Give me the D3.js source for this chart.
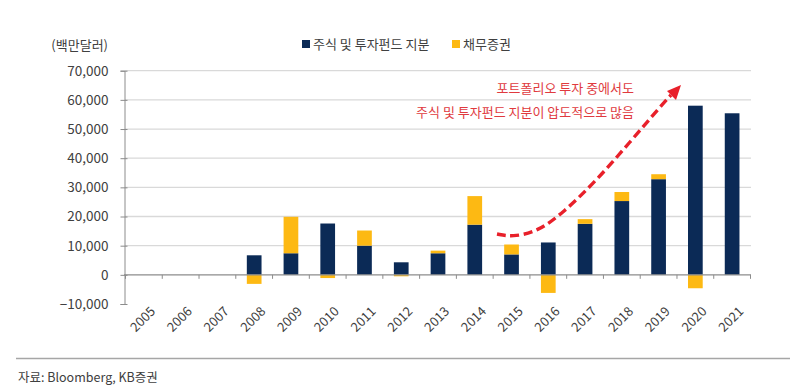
<!DOCTYPE html>
<html><head><meta charset="utf-8">
<script src="https://cdn.jsdelivr.net/npm/d3@7"></script>
<style>
body{margin:0;background:#fff;}
svg{display:block;font-family:"Noto Sans CJK KR","Noto Sans",sans-serif;}
</style></head>
<body><svg id="c" width="800" height="391"></svg>
<script>
const years = ["2005","2006","2007","2008","2009","2010","2011","2012","2013","2014","2015","2016","2017","2018","2019","2020","2021"];
const equity = [0,0,0,6700,7400,17600,10000,4300,7400,17200,7000,11100,17500,25300,32800,58000,55400];
const debt   = [0,0,0,-3100,12500,-1100,5200,-500,900,9800,3400,-6200,1600,3100,1700,-4600,0];
const yTicks = [-10000,0,10000,20000,30000,40000,50000,60000,70000];
const seriesNames = ["주식 및 투자펀드 지분","채무증권"];
const annotation = ["포트폴리오 투자 중에서도","주식 및 투자펀드 지분이 압도적으로 많음"];
const unitLabel = "(백만달러)";
const sourceLabel = "자료: Bloomberg, KB증권";
const colors = ["#0b2a56","#fdb913"];

const svg = d3.select("#c");
const x = d3.scaleBand().domain(years).range([125.5,750.5]).paddingInner(0.6).paddingOuter(0.3);
const y = d3.scaleLinear().domain([-10000,70000]).range([304,70.7]);

// grid
svg.append("g").selectAll("line").data(yTicks.filter(d=>d>0)).join("line")
  .attr("x1",125).attr("x2",751).attr("y1",d=>y(d)).attr("y2",d=>y(d))
  .attr("stroke","#d9d9d9").attr("stroke-width",1.3);

// y axis
const ya = svg.append("g").attr("transform","translate(124.5,0)")
  .call(d3.axisLeft(y).tickValues(yTicks).tickSize(4).tickFormat(d3.format(",")));
ya.select(".domain").attr("stroke","#8c8c8c");
ya.selectAll(".tick line").attr("stroke","#8c8c8c").attr("x2",-4).attr("x1",3);
ya.selectAll(".tick text").attr("x",-16).attr("fill","#404040").attr("font-size",13.5)
  .style("font-family","'Noto Sans CJK KR'");

// bars
const stacks = years.map((yr,i)=>{
  const e = equity[i], d = debt[i];
  const segs = [];
  let p=0,n=0;
  [[e,0],[d,1]].forEach(([v,k])=>{
    if(v>=0){segs.push({yr,k,y0:p,y1:p+v});p+=v;}
    else{segs.push({yr,k,y0:n+v,y1:n});n+=v;}
  });
  return segs;
}).flat();
svg.append("g").selectAll("rect").data(stacks.filter(s=>s.y1-s.y0!==0)).join("rect")
  .attr("x",d=>x(d.yr)).attr("width",x.bandwidth())
  .attr("y",d=>y(d.y1)).attr("height",d=>y(d.y0)-y(d.y1))
  .attr("fill",d=>colors[d.k]);

// x axis at zero
const xa = svg.append("g").attr("transform",`translate(0,${y(0)})`);
xa.append("line").attr("x1",124).attr("x2",751).attr("stroke","#8c8c8c").attr("stroke-width",1.2);
const step = x.step();
xa.selectAll(".xt").data(d3.range(years.length+1)).join("line")
  .attr("x1",(d)=>125.5+d*step).attr("x2",(d)=>125.5+d*step)
  .attr("y1",0).attr("y2",4).attr("stroke","#8c8c8c");
svg.append("g").selectAll("text").data(years).join("text")
  .attr("transform",d=>`translate(${x(d)+x.bandwidth()/2+9},${309}) rotate(-45)`)
  .attr("text-anchor","end").attr("dy","0.35em")
  .attr("fill","#404040").attr("font-size",13).text(d=>d);

// unit label
svg.append("text").attr("x",108).attr("y",50).attr("text-anchor","end")
  .attr("fill","#404040").attr("font-size",13).text(unitLabel);

// legend
const lg = svg.append("g");
const legX = [302,452];
seriesNames.forEach((s,i)=>{
  lg.append("rect").attr("x",legX[i]).attr("y",40).attr("width",8).attr("height",8).attr("fill",colors[i]);
  lg.append("text").attr("x",legX[i]+11).attr("y",49).attr("fill","#404040").attr("font-size",13).text(s);
});

// annotation
annotation.forEach((t,i)=>{
  svg.append("text").attr("x",634).attr("y",93+i*24).attr("text-anchor","end")
    .attr("fill","#e03a3e").attr("font-size",13).text(t);
});

// dashed arrow
const pts = [[497,234],[512,237],[537,232],[563,213],[597,180],[630,142],[660,107],[671,95]];
const line = d3.line().curve(d3.curveBasis);
svg.append("path").attr("d",line(pts)).attr("fill","none").attr("stroke","#e8202a")
  .attr("stroke-width",3.4).attr("stroke-dasharray","9,4.5");
svg.append("path").attr("d","M681,85 L667,91 L676,100 Z").attr("fill","#e8202a");

// bottom rule and source
svg.append("line").attr("x1",16).attr("x2",790).attr("y1",358.5).attr("y2",358.5)
  .attr("stroke","#a6a6a6").attr("stroke-width",1.5);
svg.append("text").attr("x",18).attr("y",382).attr("fill","#404040").attr("font-size",12.5).text(sourceLabel);
</script></body></html>
